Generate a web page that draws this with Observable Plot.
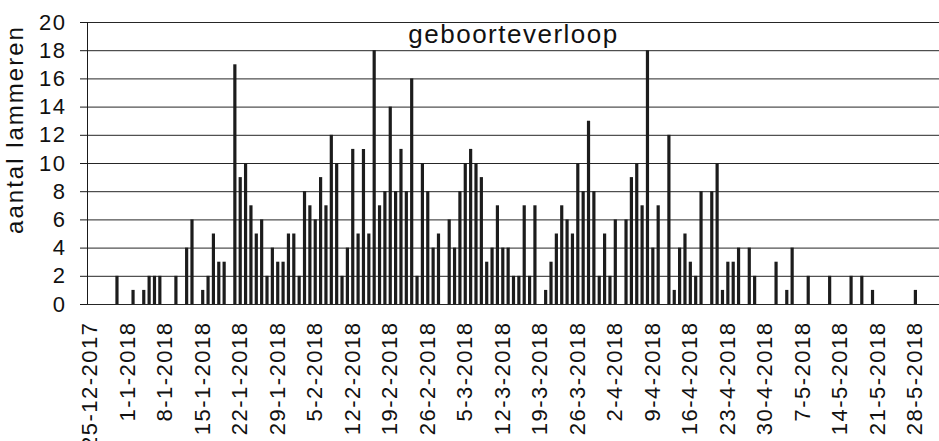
<!DOCTYPE html>
<html>
<head>
<meta charset="utf-8">
<script src="https://cdn.jsdelivr.net/npm/d3@7"></script>
<script src="https://cdn.jsdelivr.net/npm/@observablehq/plot@0.6"></script>
<style>
  html, body { margin: 0; padding: 0; background: #fff; }
  #chart svg { display: block; }
  #chart svg text { letter-spacing: 1.5px; }
</style>
</head>
<body>
<div id="chart"></div>
<script>
// Birth dates (days with lambs born) and number of lambs on each date
const birthDates = [
  "2017-12-30","2018-01-02","2018-01-04","2018-01-05","2018-01-06","2018-01-07","2018-01-10",
  "2018-01-12","2018-01-13","2018-01-15","2018-01-16","2018-01-17","2018-01-18","2018-01-19",
  "2018-01-21","2018-01-22","2018-01-23","2018-01-24","2018-01-25","2018-01-26","2018-01-27",
  "2018-01-28","2018-01-29","2018-01-30","2018-01-31","2018-02-01","2018-02-02","2018-02-03",
  "2018-02-04","2018-02-05","2018-02-06","2018-02-07","2018-02-08","2018-02-09","2018-02-10",
  "2018-02-11","2018-02-12","2018-02-13","2018-02-14","2018-02-15","2018-02-16","2018-02-17",
  "2018-02-18","2018-02-19","2018-02-20","2018-02-21","2018-02-22","2018-02-23","2018-02-24",
  "2018-02-25","2018-02-26","2018-02-27","2018-02-28","2018-03-02","2018-03-03","2018-03-04",
  "2018-03-05","2018-03-06","2018-03-07","2018-03-08","2018-03-09","2018-03-10","2018-03-11",
  "2018-03-12","2018-03-13","2018-03-14","2018-03-15","2018-03-16","2018-03-17","2018-03-18",
  "2018-03-20","2018-03-21","2018-03-22","2018-03-23","2018-03-24","2018-03-25","2018-03-26",
  "2018-03-27","2018-03-28","2018-03-29","2018-03-30","2018-03-31","2018-04-01","2018-04-02",
  "2018-04-04","2018-04-05","2018-04-06","2018-04-07","2018-04-08","2018-04-09","2018-04-10",
  "2018-04-12","2018-04-13","2018-04-14","2018-04-15","2018-04-16","2018-04-17","2018-04-18",
  "2018-04-20","2018-04-21","2018-04-22","2018-04-23","2018-04-24","2018-04-25","2018-04-27",
  "2018-04-28","2018-05-02","2018-05-04","2018-05-05","2018-05-08","2018-05-12","2018-05-16",
  "2018-05-18","2018-05-20","2018-05-28"
];
const lambs = [
  2,1,1,2,2,2,2,
  4,6,1,2,5,3,3,
  17,9,10,7,5,6,2,
  4,3,3,5,5,2,8,
  7,6,9,7,12,10,2,
  4,11,5,11,5,18,7,
  8,14,8,11,8,16,2,
  10,8,4,5,6,4,8,
  10,11,10,9,3,4,7,
  4,4,2,2,7,2,7,
  1,3,5,7,6,5,10,
  8,13,8,2,5,2,6,
  6,9,10,7,18,4,7,
  12,1,4,5,3,2,8,
  8,10,1,3,3,4,4,
  2,3,1,4,2,2,2,
  2,1,1
];
const xTickLabels = [
  "25-12-2017","1-1-2018","8-1-2018","15-1-2018","22-1-2018","29-1-2018","5-2-2018",
  "12-2-2018","19-2-2018","26-2-2018","5-3-2018","12-3-2018","19-3-2018","26-3-2018",
  "2-4-2018","9-4-2018","16-4-2018","23-4-2018","30-4-2018","7-5-2018","14-5-2018",
  "21-5-2018","28-5-2018"
];
const yTicks = [0,2,4,6,8,10,12,14,16,18,20];
const xDomainLabels = ["2017-12-24T12:00:00Z", "2018-06-01T12:00:00Z"];
const titleText = "geboorteverloop";
const yLabelText = "aantal lammeren";

const parseDate = d3.utcParse("%Y-%m-%d");
const parseTick = d3.utcParse("%d-%m-%Y");
const data = birthDates.map((d, i) => ({date: parseDate(d), value: lambs[i]}));
const tickDates = xTickLabels.map(parseTick);
const xDomain = xDomainLabels.map(s => new Date(s));
const fmtTick = d => xTickLabels[tickDates.findIndex(t => +t === +d)];

const font = "'Liberation Sans', Arial, Helvetica, sans-serif";

const chart = Plot.plot({
  width: 939,
  height: 441,
  marginLeft: 87,
  marginRight: 0,
  marginTop: 22,
  marginBottom: 137,
  style: {fontFamily: font, background: "#fff", color: "#111", overflow: "visible"},
  x: {type: "utc", domain: xDomain, axis: null},
  y: {domain: [0, 20], axis: null},
  marks: [
    Plot.ruleY(yTicks, {stroke: "#262626", strokeWidth: 1}),
    Plot.ruleX(data, {x: "date", y: "value", stroke: "#1c1c1c", strokeWidth: 3.2}),
    Plot.ruleX([xDomain[0]], {stroke: "#1a1a1a", strokeWidth: 1}),
    Plot.axisY({ticks: yTicks, tickSize: 7, tickPadding: 14, fontSize: 22, label: null, stroke: "#1a1a1a"}),
    Plot.axisX({ticks: tickDates, tickFormat: fmtTick, tickRotate: -90, tickSize: 0, tickPadding: 17, fontSize: 22, label: null}),
    Plot.text([titleText], {frameAnchor: "top", dy: 2, fontSize: 26, fill: "#111", textAnchor: "middle"}),
    Plot.text([yLabelText], {frameAnchor: "left", textAnchor: "middle", rotate: -90, dx: -72, dy: -34, fontSize: 24, fill: "#111"})
  ]
});

d3.select(chart).selectAll("text").filter(function() { return this.textContent === yLabelText; })
  .style("letter-spacing", "2px");

document.getElementById("chart").appendChild(chart);
</script>
</body>
</html>
